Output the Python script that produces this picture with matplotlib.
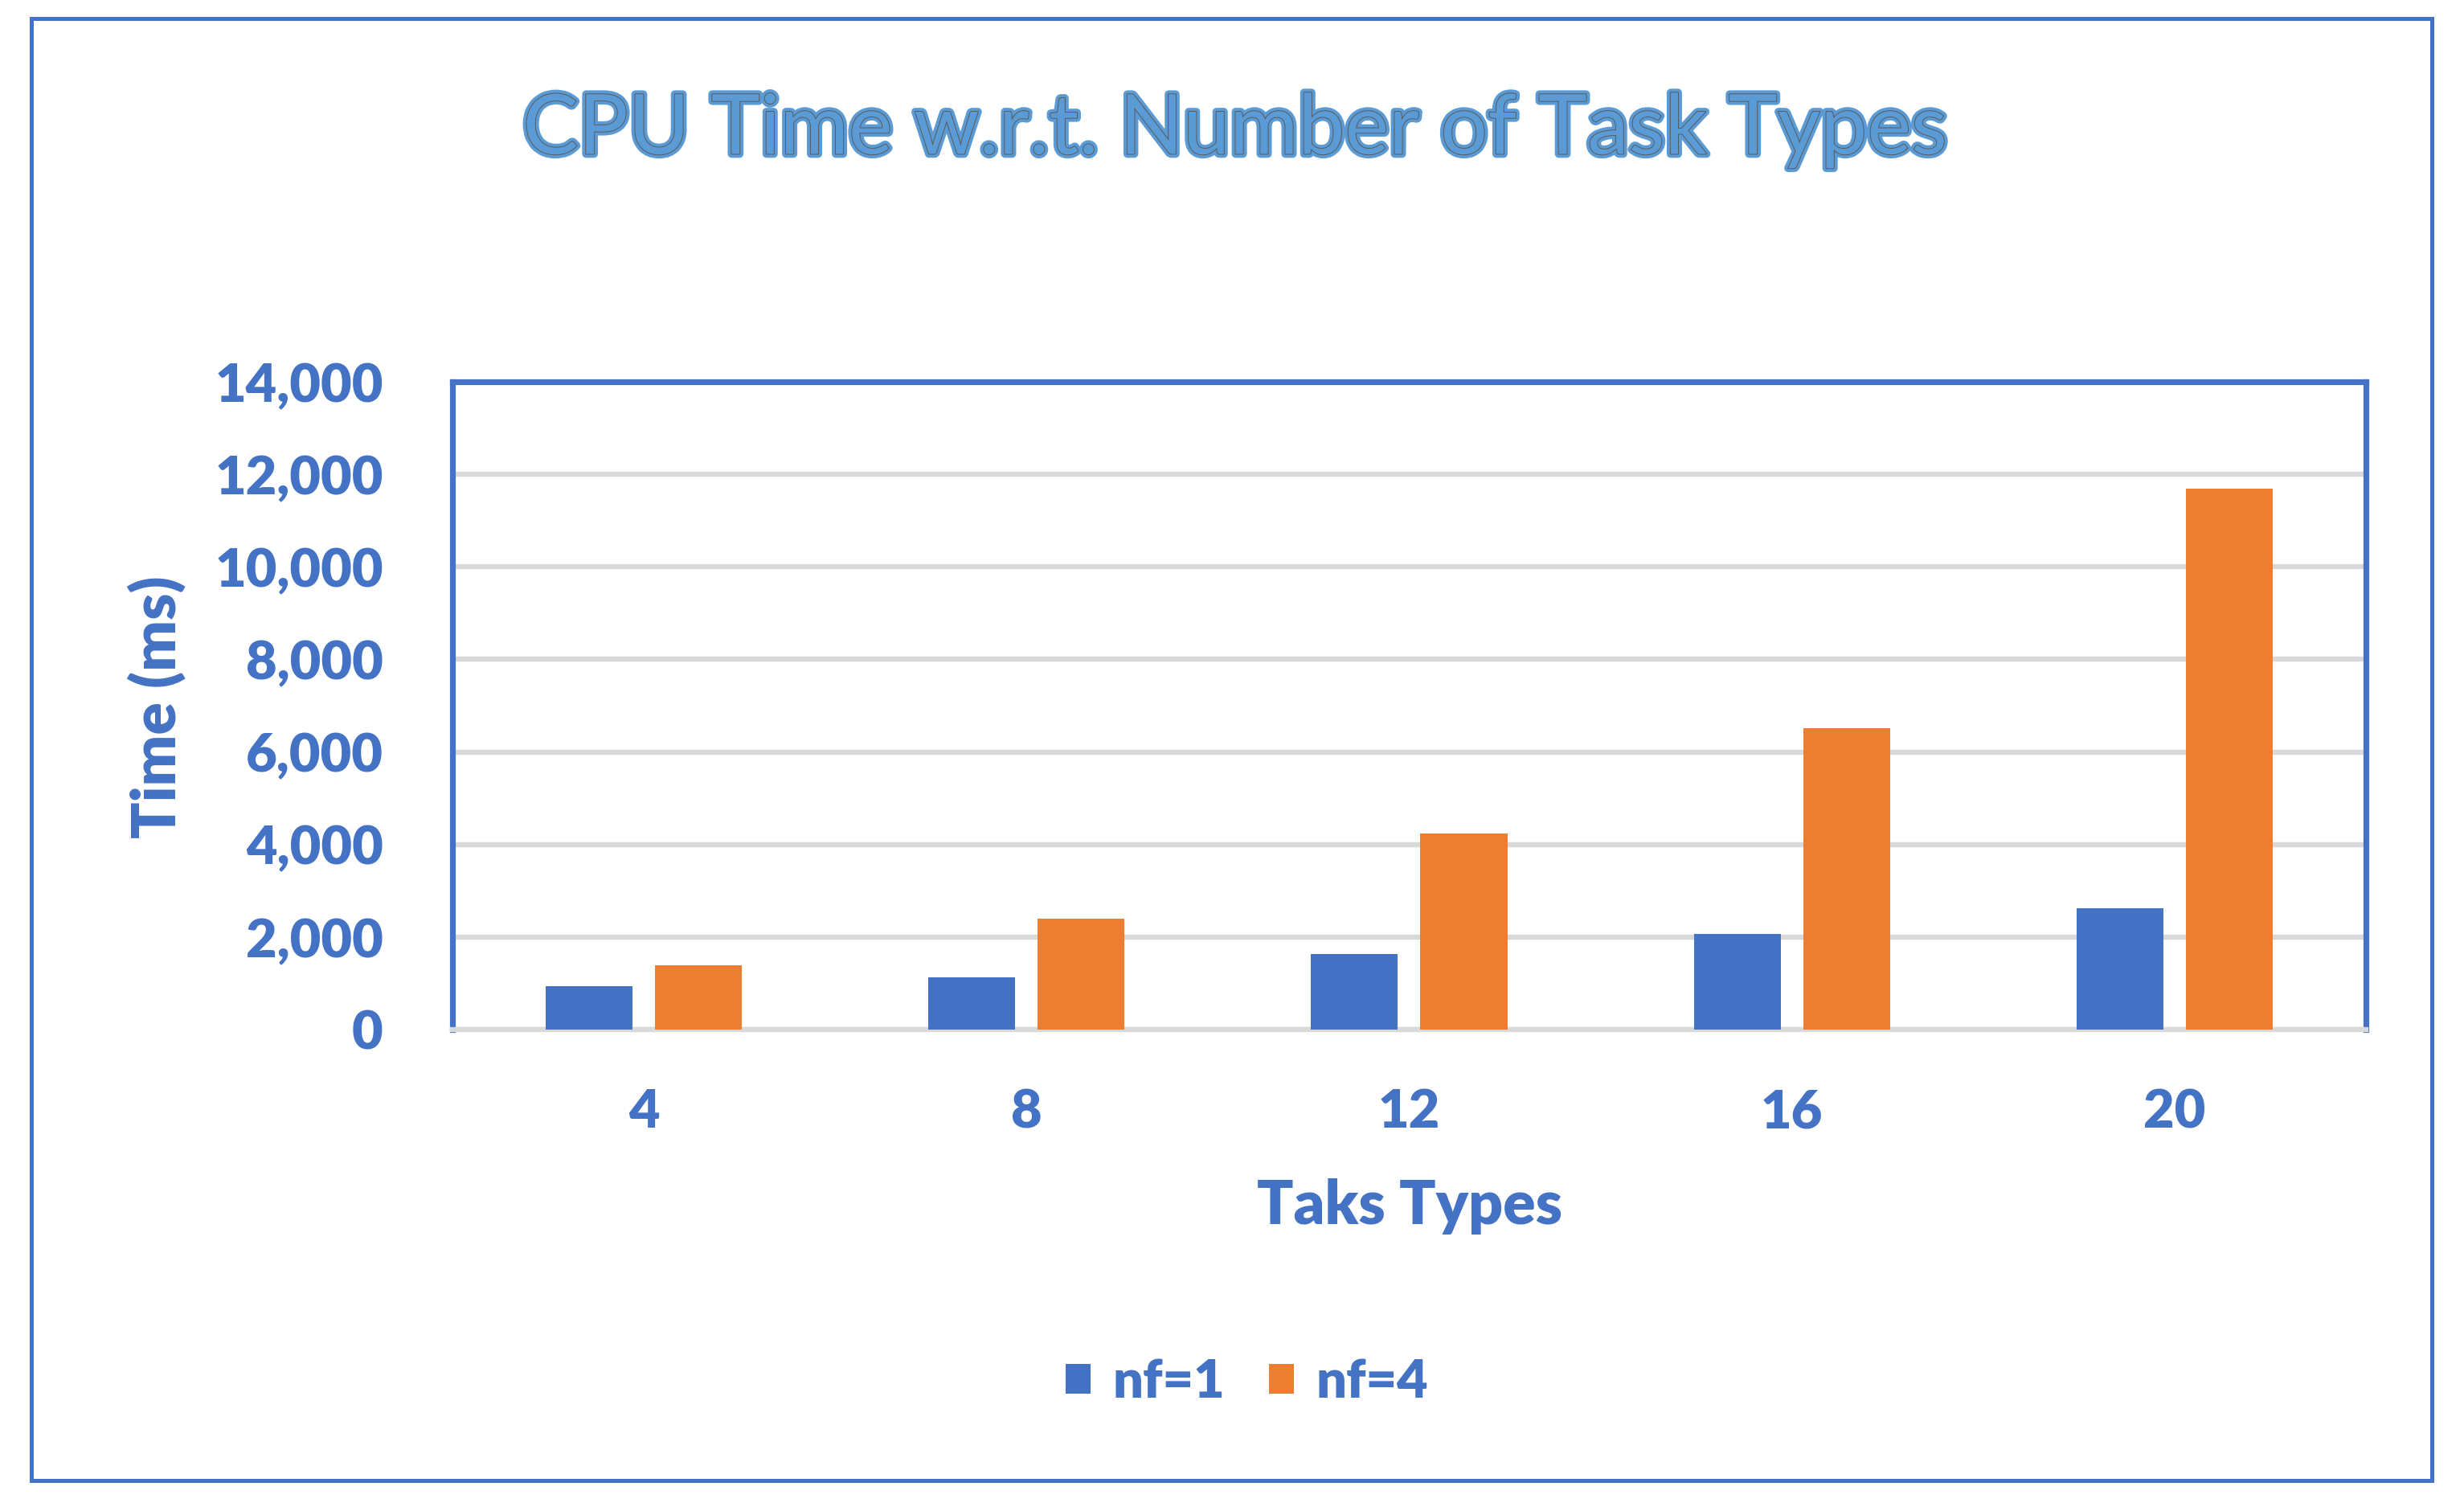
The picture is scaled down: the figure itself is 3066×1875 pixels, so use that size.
import matplotlib
matplotlib.use("Agg")
import matplotlib.pyplot as plt
import matplotlib.patheffects as pe
from matplotlib.patches import Rectangle
from matplotlib.ticker import FuncFormatter
import numpy as np

plt.rcParams['font.family'] = ['Lato', 'DejaVu Sans']

# values
task_types = ['4', '8', '12', '16', '20']
nf1 = [940, 1135, 1640, 2060, 2625]
nf4 = [1395, 2405, 4230, 6510, 11690]
series_names = ['nf=1', 'nf=4']
y_ticks = [0, 2000, 4000, 6000, 8000, 10000, 12000, 14000]

BLUE = '#4472C4'
ORANGE = '#ED7D31'
GRID = '#D9D9D9'
TEXT = '#4472C4'

fig = plt.figure(figsize=(15.33, 9.375), dpi=200)
ax = fig.add_axes([0.1836, 0.3168, 0.7766, 0.4299])

x = np.arange(len(task_types))
w = 0.227
off = 0.143
b1 = ax.bar(x - off, nf1, w, color=BLUE, label=series_names[0], zorder=3)
b2 = ax.bar(x + off, nf4, w, color=ORANGE, label=series_names[1], zorder=3)

ax.set_xlim(-0.5, len(task_types) - 0.5)
ax.set_ylim(0, 14000)
ax.set_yticks(y_ticks)
ax.yaxis.set_major_formatter(FuncFormatter(lambda v, p: f'{int(v):,}'))
ax.set_xticks(x)
ax.set_xticklabels(task_types)
ax.grid(axis='y', color=GRID, linewidth=2.3, zorder=0)
ax.set_axisbelow(True)
ax.tick_params(length=0, labelsize=24, labelcolor=TEXT)
ax.tick_params(axis='y', pad=31)
ax.tick_params(axis='x', pad=26)
for lab in ax.get_xticklabels() + ax.get_yticklabels():
    lab.set_fontweight('heavy')

for side in ['left', 'top', 'right']:
    ax.spines[side].set_color(BLUE)
    ax.spines[side].set_linewidth(2.6)
ax.spines['bottom'].set_color(GRID)
ax.spines['bottom'].set_linewidth(2.3)

fig.text(0.0637, 0.531, 'Time (ms)', rotation=90, ha='center', va='center',
         fontsize=27, fontweight='heavy', color=TEXT)
fig.text(0.572, 0.1994, 'Taks Types', ha='center', va='center',
         fontsize=27, fontweight='heavy', color=TEXT)

title = fig.text(0.501, 0.9136, 'CPU Time w.r.t. Number of Task Types',
                 ha='center', va='center', fontsize=37.3, color='#5B9BD5')
title.set_path_effects([pe.Stroke(linewidth=3.5, foreground='#5B9BD5'),
                        pe.Stroke(linewidth=0.7, foreground='#595959'),
                        pe.Normal()])

leg = fig.legend(handles=[b1, b2], loc='center', bbox_to_anchor=(0.506, 0.083),
                 ncol=2, frameon=False, fontsize=24, handlelength=0.47,
                 handleheight=0.47, handletextpad=0.41, columnspacing=0.82)
for t in leg.get_texts():
    t.set_color(TEXT)
    t.set_fontweight('heavy')

# outer chart border
fig.patches.append(Rectangle((0.0127, 0.0176), 0.9743, 0.9701, transform=fig.transFigure,
                             fill=False, edgecolor=BLUE, linewidth=1.8))

fig.savefig('out.png', dpi=200, facecolor='white')
